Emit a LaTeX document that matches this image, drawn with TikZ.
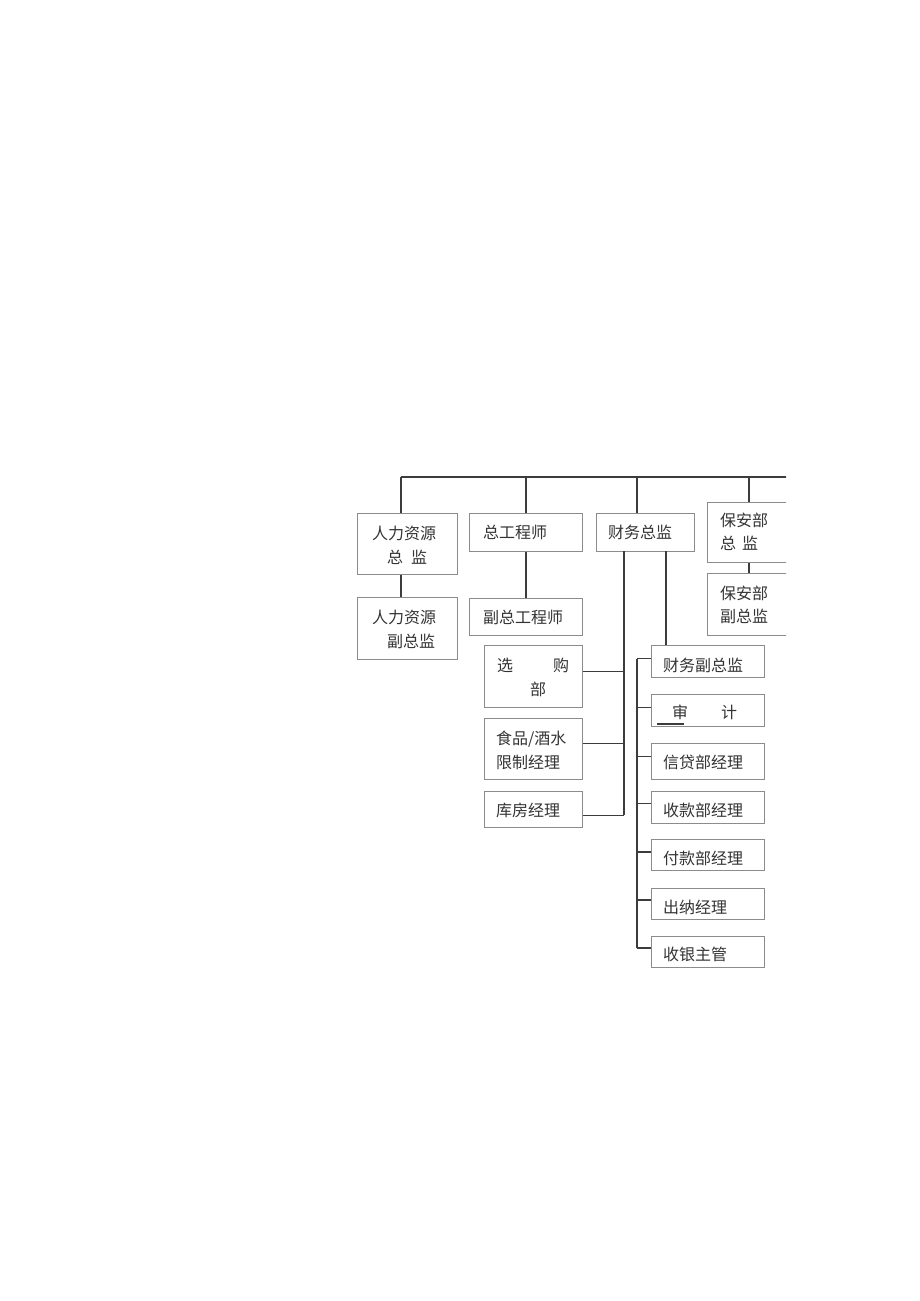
\documentclass[tikz,border=0pt]{standalone}
\usepackage{fontspec}
\newfontfamily\cjk{Noto Sans CJK SC}
\usetikzlibrary{calc}
\definecolor{boxgray}{HTML}{8C8C8C}
\definecolor{linegray}{HTML}{3C3C3C}
\definecolor{txtgray}{HTML}{333333}
\tikzset{
  box/.style={draw=boxgray, line width=1.2pt, rectangle, inner sep=0pt, anchor=north west},
  conn/.style={draw=linegray, line width=1.5pt},
  txt/.style={anchor=west, inner sep=0pt, text height=14pt, text depth=2pt,
    font=\cjk\fontsize{16}{16}\selectfont, text=txtgray},
}
\newcommand\bx[5]{\node[box, minimum width=#4pt, minimum height=#5pt] (#1) at (#2,#3) {};}
\newcommand\tx[4]{\node[txt] (#1) at (#2,#3) {#4};}
\begin{document}
\begin{tikzpicture}[x=1pt,y=-1pt]
\useasboundingbox (0,0) rectangle (920,1301);
\begin{scope}
\clip (0,0) rectangle (786,1301);
% boxes
\bx{hr1}{357}{513}{100}{61}
\bx{hr2}{357}{597}{100}{62}
\bx{ce}{469}{513}{113}{38}
\bx{vce}{469}{598}{113}{37}
\bx{cf}{596}{513}{98}{38}
\bx{sec1}{707}{502}{103}{60}
\bx{sec2}{707}{573}{103}{62}
\bx{pur}{484}{645}{98}{62}
\bx{food}{484}{718}{98}{61}
\bx{wh}{484}{791}{98}{36}
\bx{vcf}{651}{645}{113}{32}
\bx{aud}{651}{694}{113}{32}
\bx{cred}{651}{743}{113}{36}
\bx{rec}{651}{791}{113}{32}
\bx{pay}{651}{839}{113}{31}
\bx{cash}{651}{888}{113}{31}
\bx{csh}{651}{936}{113}{31}
% top line
\coordinate (t1) at (401,477);
\coordinate (t2) at (526,477);
\coordinate (t3) at (637,477);
\coordinate (t4) at (749,477);
\coordinate (tr) at (790,477);
\draw[conn] (t1) -- (tr);
\draw[conn] (t1) -- (t1 |- hr1.north);
\draw[conn] (t2) -- (t2 |- ce.north);
\draw[conn] (t3) -- (t3 |- cf.north);
\draw[conn] (t4) -- (t4 |- sec1.north);
\draw[conn] (t1 |- hr1.south) -- (t1 |- hr2.north);
\draw[conn] (t2 |- ce.south) -- (t2 |- vce.north);
\draw[conn] (t4 |- sec1.south) -- (t4 |- sec2.north);
% finance director branches
\coordinate (fl) at (624,551);
\coordinate (fr) at (666,551);
\draw[conn] (fr) -- (fr |- vcf.north);
\draw[conn] (fl) -- (fl |- 0,815);
\draw[conn] ([yshift=5pt]pur.east) -- ([yshift=5pt]pur.east -| fl);
\draw[conn] ([yshift=5.5pt]food.east) -- ([yshift=5.5pt]food.east -| fl);
\draw[conn] ([yshift=-6pt]wh.east) -- ([yshift=-6pt]wh.east -| fl);
% right bracket
\coordinate (rb) at (637,0);
\draw[conn] ([yshift=3pt]vcf.west -| rb) -- ([yshift=4pt]csh.west -| rb);
\foreach \n/\s in {vcf/3, aud/3, cred/5, rec/4, pay/3, cash/4, csh/4}
  \draw[conn] ([yshift=\s pt]\n.west -| rb) -- ([yshift=\s pt]\n.west);
\draw[conn] (657,724) -- (684,724);
% texts
\tx{hr1a}{372}{533}{人力资源}
\tx{hr1b}{387}{557}{总\hspace{8pt}监}
\tx{hr2a}{372}{617}{人力资源}
\tx{hr2b}{387}{641}{副总监}
\tx{cet}{483}{532}{总工程师}
\tx{vcet}{483}{617}{副总工程师}
\tx{cft}{608}{532}{财务总监}
\tx{sec1a}{720}{520}{保安部}
\tx{sec1b}{720}{543}{总\hspace{6pt}监}
\tx{sec2a}{720}{593}{保安部}
\tx{sec2b}{720}{616}{副总监}
\tx{pura}{497}{665}{选}
\tx{purb}{553}{665}{购}
\tx{purc}{530}{689}{部}
\tx{fooda}{496}{738}{食品/酒水}
\tx{foodb}{496}{762}{限制经理}
\tx{wht}{496}{810}{库房经理}
\tx{vcft}{663}{665}{财务副总监}
\tx{auda}{672}{712}{审}
\tx{audb}{721}{712}{计}
\tx{credt}{663}{762}{信贷部经理}
\tx{rect}{663}{810}{收款部经理}
\tx{payt}{663}{858}{付款部经理}
\tx{casht}{663}{907}{出纳经理}
\tx{csht}{663}{954}{收银主管}
\end{scope}
\end{tikzpicture}
\end{document}
